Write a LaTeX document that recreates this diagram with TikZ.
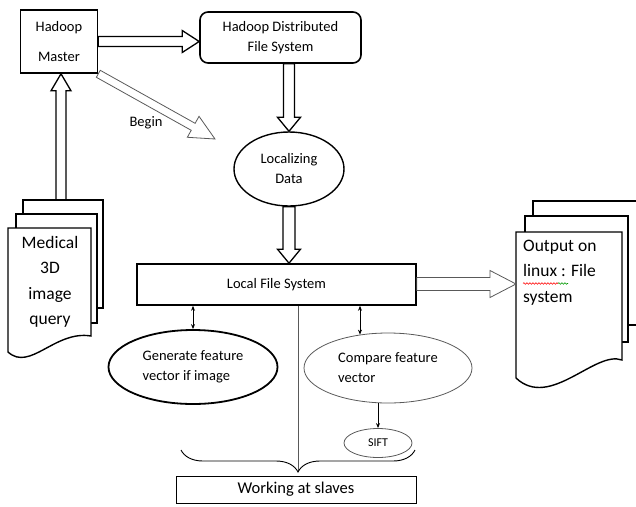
\documentclass[tikz,border=0pt]{standalone}
\usepackage{fontspec}
\setmainfont{Carlito}
\usetikzlibrary{calc,shapes.geometric,arrows.meta,decorations.pathreplacing,decorations.pathmorphing}

% hollow block arrow: [style]{from}{to}{shaft}{head}{head length}
\newcommand{\hollowarrow}[6][line width=1.3pt]{%
  \draw[#1] let \p1=(#2), \p2=(#3),
    \n1={atan2(\y2-\y1,\x2-\x1)}, \n2={veclen(\x2-\x1,\y2-\y1)} in
    [shift={(\p1)}, rotate=\n1]
    (0pt,#4) -- (\n2-#6,#4) -- (\n2-#6,#5) -- (\n2,0pt)
    -- (\n2-#6,-#5) -- (\n2-#6,-#4) -- (0pt,-#4) -- cycle;}

\begin{document}
\begin{tikzpicture}[x=1pt,y=-1pt,
  box/.style={draw, line width=1.6pt, align=center, inner sep=0pt, font=\fontsize{14.5}{20}\selectfont},
  oval/.style={ellipse, draw, line width=1.4pt, align=center, inner sep=0pt, font=\fontsize{14.5}{20}\selectfont},
  page/.style={draw, line width=1.4pt, fill=white},
  bigtext/.style={inner sep=0pt, font=\fontsize{17.5}{25.5}\selectfont},
  thinline/.style={draw=black!65, line width=0.8pt},
  tiparrow/.style={line width=0.8pt, {Stealth[length=5pt,width=4pt]}-{Stealth[length=5pt,width=4pt]}}]
  \useasboundingbox (0,0) rectangle (636,506);
  \clip (0,0) rectangle (636,506);

  %Master
  \node[box, minimum width=77, minimum height=63, font=\fontsize{14.5}{30}\selectfont] (master) at (59,41.5) {Hadoop\\Master};
  \node[box, rounded corners=8pt, minimum width=161, minimum height=51] (hdfs) at (280.5,37.5) {Hadoop Distributed\\File System};
  \node[oval, minimum width=110, minimum height=74] (loc) at (289,169) {Localizing\\Data};
  \node[box, minimum width=279, minimum height=41] (lfs) at (276.5,284.5) {Local File System};
  \node[font=\fontsize{14.5}{20}\selectfont] (begin) at (146,123) {Begin};
  \coordinate (begintip) at (215,139);

  %Slaves
  \node[oval, line width=1.8pt, minimum width=169, minimum height=74, align=left] (gen) at (193,367) {Generate feature\\vector if image};
  \node[oval, thinline, minimum width=168, minimum height=70, align=left] (cmp) at (388,368) {Compare feature\\vector};
  \node[oval, thinline, minimum width=68, minimum height=29, font=\fontsize{12}{14}\selectfont] (sift) at (378,443) {SIFT};
  \node[draw, line width=0.9pt, minimum width=240, minimum height=27, font=\fontsize{16.5}{20}\selectfont] (slaves) at (296,489.5) {Working at slaves};
  \coordinate (bracetip) at (298,472);

  %Medical query
  \draw[page] (23,200) rectangle (103,308);
  \draw[page] (16,214) rectangle (97,323);
  \draw[page] (8,228) -- (91,228) -- (91,336) .. controls (55,330) and (30,372) .. (8,352) -- cycle;
  \node[bigtext, align=center] (query) at (50,282) {Medical\\3D\\image\\query};
  \coordinate (qtop) at (61,200);

  %Output
  \draw[page] (533,201) rectangle (645,325);
  \draw[page] (525,216) rectangle (628,342);
  \draw[page] (516,232) -- (622,232) -- (622,360) .. controls (595,350) and (550,410) .. (516,378) -- cycle;
  \node[bigtext, align=left, anchor=west] (out) at (523,272.5) {Output on\\linux : File\\system};
  \coordinate (outleft) at (516,284);
  \draw[red, line width=0.6pt, decorate, decoration={snake, amplitude=0.8pt, segment length=3pt}]
    ($(out.west)+(0,11)$) -- ++(35,0);
  \draw[green!60!black, line width=0.6pt, decorate, decoration={snake, amplitude=0.8pt, segment length=3pt}]
    ($(out.west)+(35,11)$) -- ++(10,0);

  %Pfeile
  \hollowarrow{master.east}{master.east -| hdfs.west}{5pt}{11pt}{17pt}
  \hollowarrow[thinline]{master.south east}{begintip}{4pt}{12pt}{25pt}
  \hollowarrow{loc.north |- hdfs.south}{loc.north}{5.5pt}{11.5pt}{14pt}
  \hollowarrow{loc.south}{loc.south |- lfs.north}{6pt}{11.5pt}{14pt}
  \hollowarrow[thinline]{lfs.east |- outleft}{outleft}{6.5pt}{13.5pt}{26pt}
  \hollowarrow{qtop}{qtop |- master.south}{5pt}{10pt}{17pt}

  \draw[tiparrow] (gen.north |- lfs.south) -- (gen.north);
  \draw[tiparrow] (cmp.130 |- lfs.south) -- (cmp.130);
  \draw[line width=0.8pt, -{Stealth[length=5pt,width=4pt]}] (sift.north |- cmp.south) -- (sift.north);
  \draw[thinline] (bracetip |- lfs.south) -- (bracetip);
  \draw[line width=0.9pt, decorate, decoration={brace, amplitude=22pt}] (415,450) -- (181,450);
\end{tikzpicture}
\end{document}
